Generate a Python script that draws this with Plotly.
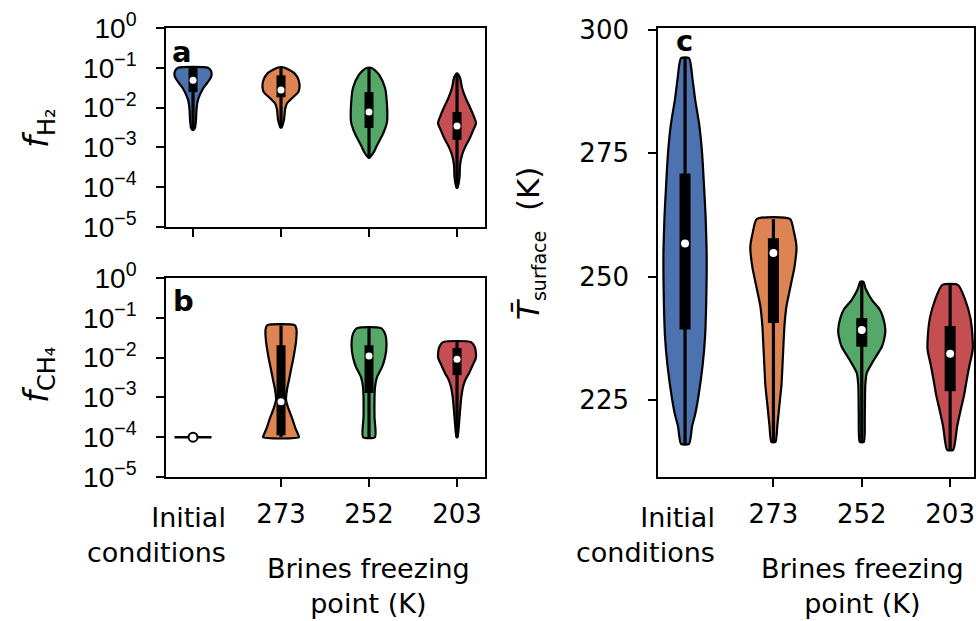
import plotly.graph_objects as go

W, H = 976, 621

GROUPS = ["Initial<br>conditions", "273", "252", "203"]
COLORS = ["#4C72B0", "#DD8452", "#55A868", "#C44E52"]
BRINES_LABEL = "Brines freezing<br>point (K)"

# ---- f_H2 : violin outlines (levels, half-width density) and box statistics
H2_LEVELS = [
    [0.100, 0.0832, 0.0631, 0.0479, 0.0355, 0.0269, 0.0200, 0.0141, 0.00891, 0.00501, 0.00316, 0.00275],
    [0.102, 0.0891, 0.0724, 0.0501, 0.0316, 0.0240, 0.0182, 0.0129, 0.00891, 0.00501, 0.00316],
    [0.0977, 0.0794, 0.0646, 0.0316, 0.0115, 0.00437, 0.00251, 0.00174, 0.00100, 0.000776, 0.000603, 0.000550],
    [0.0724, 0.0562, 0.0316, 0.0178, 0.0115, 0.00631, 0.00407, 0.00263, 0.00174, 0.00100, 0.000646, 0.000355, 0.000178, 0.0000977],
]
H2_DENSITY = [
    [15, 18, 18.5, 16, 12, 9, 6.5, 4.5, 3.5, 3, 2, 0.5],
    [3, 8, 13.5, 17.5, 18.5, 17, 12, 6, 4, 3, 0.5],
    [3, 7.5, 10.5, 16, 18, 18, 15, 12, 7, 5, 2, 0.5],
    [0.5, 3, 5, 8.5, 12, 16.5, 19, 16, 13, 8, 5, 3, 2.5, 0.5],
]
H2_MIN = [0.00275, 0.00316, 0.000550, 0.0000977]
H2_Q1 = [0.0245, 0.0182, 0.00309, 0.00155]
H2_MEDIAN = [0.049, 0.0275, 0.00776, 0.00347]
H2_Q3 = [0.098, 0.0646, 0.0245, 0.00776]
H2_MAX = [0.100, 0.102, 0.0977, 0.0724]

# ---- f_CH4 : the initial value is a single fixed mixing ratio
CH4_INITIAL = 1e-4
CH4_LEVELS = [
    [],
    [0.0646, 0.0501, 0.0251, 0.0141, 0.00871, 0.00501, 0.00275, 0.00158, 0.00087, 0.00056, 0.00041, 0.00028, 0.00018, 0.000126, 0.0001],
    [0.055, 0.0398, 0.0204, 0.0100, 0.00575, 0.00324, 0.00182, 0.00100, 0.000316, 0.0001],
    [0.0245, 0.0178, 0.0102, 0.00631, 0.00407, 0.00282, 0.00182, 0.00087, 0.000316, 0.0001],
]
CH4_DENSITY = [
    [],
    [14, 15.5, 15, 13.5, 12, 10, 8, 6, 5, 7, 9, 11.5, 14, 16.5, 18],
    [12, 16, 17.5, 16, 13, 8, 6, 5.5, 5.5, 6],
    [14, 18, 19, 15.5, 12, 8.5, 6, 4, 2.5, 0.5],
]
CH4_MIN = [1e-4, 1e-4, 1e-4, 1e-4]
CH4_Q1 = [1e-4, 0.000112, 0.00129, 0.00363]
CH4_MEDIAN = [1e-4, 0.00078, 0.0110, 0.0091]
CH4_Q3 = [1e-4, 0.0204, 0.0204, 0.0174]
CH4_MAX = [1e-4, 0.0646, 0.055, 0.0245]

# ---- mean surface temperature (K)
T_LEVELS = [
    [294.3, 290, 286, 281, 275, 268, 262, 255, 250, 244, 238, 232, 225.3, 222, 219.7, 216.1],
    [261.7, 259, 256, 252, 248, 244, 240, 234, 228, 224, 220, 216.5],
    [249.0, 247.5, 245.3, 243.3, 241.5, 239.2, 237.5, 235.8, 233.1, 230.5, 228, 222, 216.5],
    [248.3, 245.3, 241.8, 238.6, 235.2, 231.8, 228.5, 226.1, 223, 219.7, 214.9],
]
T_DENSITY = [
    [4, 7.5, 10, 14, 17, 19, 20.5, 21.5, 21.5, 21, 20, 17.5, 13, 10, 7, 4],
    [16.5, 20.5, 23, 21, 17, 13, 11, 9.5, 8, 6, 4, 2],
    [1.5, 4, 10, 18, 21.5, 23.5, 22.5, 20, 12, 5, 3.5, 3, 2],
    [8, 15, 20, 22, 22.5, 19, 16, 14, 10.5, 7, 3],
]
T_MIN = [216.1, 216.5, 216.5, 214.9]
T_Q1 = [239.3, 240.6, 235.8, 226.8]
T_MEDIAN = [256.7, 254.8, 239.2, 234.4]
T_Q3 = [270.9, 257.8, 241.6, 240.0]
T_MAX = [294.3, 261.7, 249.0, 248.3]

LOG_TICKS = [1, 1e-1, 1e-2, 1e-3, 1e-4, 1e-5]
LOG_TICKTEXT = ["10<sup>0</sup>", "10<sup>\u22121</sup>", "10<sup>\u22122</sup>",
                "10<sup>\u22123</sup>", "10<sup>\u22124</sup>", "10<sup>\u22125</sup>"]
T_TICKS = [225, 250, 275, 300]

WIDTH_SCALE = 1 / 88.0   # density units -> category units
FONT = "DejaVu Sans"
LOGFONT = "Liberation Sans"


def px(x):
    return x / W


def py(y):
    return 1 - y / H


fig = go.Figure()


def add_violin(xa, ya, pos, levels, dens, color, lo, q1, med, q3, hi, box_w, dot):
    left = [pos - d * WIDTH_SCALE for d in dens]
    right = [pos + d * WIDTH_SCALE for d in dens]
    xs = left + right[::-1] + [left[0]]
    ys = list(levels) + list(levels[::-1]) + [levels[0]]
    fig.add_trace(go.Scatter(
        x=xs, y=ys, xaxis=xa, yaxis=ya, mode="lines", fill="toself",
        fillcolor=color, line=dict(color="black", width=2.2, shape="spline", smoothing=0.6),
        hoverinfo="skip", showlegend=False))
    fig.add_trace(go.Scatter(
        x=[pos, pos], y=[lo, hi], xaxis=xa, yaxis=ya, mode="lines",
        line=dict(color="black", width=3.2), hoverinfo="skip", showlegend=False))
    fig.add_trace(go.Scatter(
        x=[pos, pos], y=[q1, q3], xaxis=xa, yaxis=ya, mode="lines",
        line=dict(color="black", width=box_w), hoverinfo="skip", showlegend=False))
    fig.add_trace(go.Scatter(
        x=[pos], y=[med], xaxis=xa, yaxis=ya, mode="markers",
        marker=dict(color="white", size=dot, line=dict(width=0)),
        hoverinfo="skip", showlegend=False))


# panel a
for i in range(4):
    add_violin("x", "y", i, H2_LEVELS[i], H2_DENSITY[i], COLORS[i],
               H2_MIN[i], H2_Q1[i], H2_MEDIAN[i], H2_Q3[i], H2_MAX[i], 9, 7)

# panel b: the initial condition is a single value drawn as a flat line
fig.add_trace(go.Scatter(
    x=[-0.21, 0.21], y=[CH4_INITIAL, CH4_INITIAL], xaxis="x2", yaxis="y2", mode="lines",
    line=dict(color="black", width=2.6), hoverinfo="skip", showlegend=False))
fig.add_trace(go.Scatter(
    x=[0], y=[CH4_MEDIAN[0]], xaxis="x2", yaxis="y2", mode="markers",
    marker=dict(color="white", size=9, line=dict(color="black", width=2)),
    hoverinfo="skip", showlegend=False))
for i in range(1, 4):
    add_violin("x2", "y2", i, CH4_LEVELS[i], CH4_DENSITY[i], COLORS[i],
               CH4_MIN[i], CH4_Q1[i], CH4_MEDIAN[i], CH4_Q3[i], CH4_MAX[i], 9, 7)

# panel c
for i in range(4):
    add_violin("x3", "y3", i, T_LEVELS[i], T_DENSITY[i], COLORS[i],
               T_MIN[i], T_Q1[i], T_MEDIAN[i], T_Q3[i], T_MAX[i], 11, 8)

axis_common = dict(showline=True, mirror=True, linecolor="black", linewidth=1.6,
                   showgrid=False, zeroline=False, ticks="outside", ticklen=8,
                   tickwidth=1.6, tickcolor="black", automargin=False)

fig.update_layout(
    width=W, height=H, margin=dict(l=0, r=0, t=0, b=0, autoexpand=False),
    paper_bgcolor="white", plot_bgcolor="white", showlegend=False,
    xaxis=dict(domain=[px(166), px(485)], range=[-0.307, 3.318], anchor="y",
               tickvals=[0, 1, 2, 3], ticktext=["", "", "", ""], **axis_common),
    yaxis=dict(domain=[py(227), py(28)], type="log", range=[-5, 0], anchor="x",
               tickvals=LOG_TICKS, ticktext=LOG_TICKTEXT, ticklabelstandoff=14,
               tickfont=dict(family=LOGFONT, size=28, color="black"), **axis_common),
    xaxis2=dict(domain=[px(166), px(485)], range=[-0.307, 3.318], anchor="y2",
                tickvals=[1, 2, 3], ticktext=GROUPS[1:], ticklabelstandoff=5,
                tickfont=dict(family=FONT, size=26, color="black"), **axis_common),
    yaxis2=dict(domain=[py(477), py(278)], type="log", range=[-5, 0], anchor="x2",
                tickvals=LOG_TICKS, ticktext=LOG_TICKTEXT, ticklabelstandoff=14,
                tickfont=dict(family=LOGFONT, size=28, color="black"), **axis_common),
    xaxis3=dict(domain=[px(658), px(974)], range=[-0.306, 3.27], anchor="y3",
                tickvals=[1, 2, 3], ticktext=GROUPS[1:], ticklabelstandoff=5,
                tickfont=dict(family=FONT, size=26, color="black"), **axis_common),
    yaxis3=dict(domain=[py(477), py(28)], range=[209.4, 300.4], anchor="x3",
                tickvals=T_TICKS, ticklabelstandoff=14,
                tickfont=dict(family=FONT, size=26, color="black"), **axis_common),
)

ann = []
# y-axis titles
ann.append(dict(x=px(38), y=py(128),
                text="<i>f</i><sub><span style='font-size:24px'>H\u2082</span></sub>",
                textangle=-90, xanchor="center", yanchor="middle",
                font=dict(family=FONT, size=34, color="black")))
ann.append(dict(x=px(38), y=py(375),
                text="<i>f</i><sub><span style='font-size:24px'>CH\u2084</span></sub>",
                textangle=-90, xanchor="center", yanchor="middle",
                font=dict(family=FONT, size=34, color="black")))
ann.append(dict(x=px(530), y=py(244),
                text="<i>T\u0304</i><sub><span style='font-size:19px'>surface</span></sub>"
                     "\u00a0\u00a0(K)",
                textangle=-90, xanchor="center", yanchor="middle",
                font=dict(family=FONT, size=31, color="black")))
# group labels under panels b and c
for x_right, x_mid in [(228, 368), (717, 862)]:
    ann.append(dict(x=px(x_right), y=py(500), text=GROUPS[0], align="right",
                    xanchor="right", yanchor="top",
                    font=dict(family=FONT, size=27, color="black")))
    ann.append(dict(x=px(x_mid), y=py(551), text=BRINES_LABEL, align="center",
                    xanchor="center", yanchor="top",
                    font=dict(family=FONT, size=27, color="black")))
# panel letters
for lx, ly, letter in [(170, 33, "a"), (171, 282, "b"), (674, 22, "c")]:
    ann.append(dict(x=px(lx), y=py(ly), text="<b>%s</b>" % letter, xanchor="left",
                    yanchor="top", font=dict(family=FONT, size=29, color="black")))

for a in ann:
    a.setdefault("xref", "paper")
    a.setdefault("yref", "paper")
    a.setdefault("showarrow", False)
fig.update_layout(annotations=ann)

fig.write_html("out.html")
